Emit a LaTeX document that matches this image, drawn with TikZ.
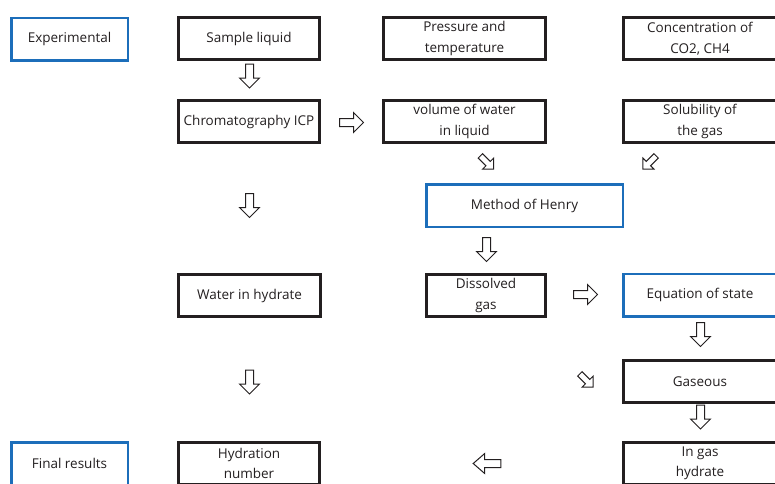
\documentclass[tikz,border=0pt]{standalone}
\usepackage{fontspec}
\setmainfont{Open Sans}
\definecolor{boxblue}{HTML}{1C6EBA}
\definecolor{ink}{HTML}{231F20}

\tikzset{
  openarrow/.pic={
    \draw[ink, line width=1pt, line join=miter]
      (-12,-4) -- (2,-4) -- (2,-10) -- (12,0) -- (2,10) -- (2,4) -- (-12,4) -- cycle;
  }
}

\begin{document}
\begin{tikzpicture}[x=1pt,y=-1pt,
  every node/.style={font=\fontsize{13.5}{20.5}\selectfont, text=ink, align=center},
  stage/.style={draw=ink, line width=3pt, minimum height=42pt, inner sep=0pt},
  phase/.style={draw=boxblue, line width=2.5pt, minimum height=42.5pt, inner sep=0pt}]
\useasboundingbox (0,0) rectangle (775,483);
\clip (0,0) rectangle (775,483);

% first row
\node[phase, minimum width=116.5pt] (exp) at (69.5,39) {Experimental};
\node[stage, minimum width=141pt] (sample) at (249,38.5) {Sample liquid};
\node[stage, minimum width=162pt] (press) at (464.5,38.5) {Pressure and\\temperature};
\node[stage, minimum width=153pt] (conc) at (700,38.5) {Concentration of\\CO2, CH4};

% second row
\node[stage, minimum width=141pt] (chrom) at (249,121.5) {Chromatography ICP};
\node[stage, minimum width=162pt] (vol) at (464.5,121.5) {volume of water\\in liquid};
\node[stage, minimum width=153pt] (solub) at (700,121.5) {Solubility of\\the gas};

\node[phase, minimum width=196.5pt] (henry) at (524.5,205.5) {Method of Henry};

% third row
\node[stage, minimum width=142pt] (water) at (249.5,295.5) {Water in hydrate};
\node[stage, minimum width=119pt] (diss) at (486,295.5) {Dissolved\\gas};
\node[phase, minimum width=153.5pt] (eos) at (700,295) {Equation of state};

\node[stage, minimum width=153pt] (gas) at (700,381.5) {Gaseous};

% last row
\node[phase, minimum width=116.5pt] (final) at (69.5,463.5) {Final results};
\node[stage, minimum width=141pt] (hydn) at (249,463.5) {Hydration\\number};
\node[stage, minimum width=153pt] (ingas) at (700,463.5) {In gas\\hydrate};

% arrows
\pic[rotate=-90] at (249.5,76) {openarrow};
\pic at (351.5,122.5) {openarrow};
\pic[rotate=-45, scale=0.78] at (487,162.5) {openarrow};
\pic[rotate=-135, scale=0.78] at (649.5,162.5) {openarrow};
\pic[rotate=-90] at (249.5,205.5) {openarrow};
\pic[rotate=-90] at (486.5,249.5) {openarrow};
\pic at (585.5,294.5) {openarrow};
\pic[rotate=-90] at (700.5,334.5) {openarrow};
\pic[rotate=-45, scale=0.78] at (586.5,380.5) {openarrow};
\pic[rotate=-90] at (249.5,382) {openarrow};
\pic[rotate=-90] at (700.5,417) {openarrow};
\pic[rotate=180, xscale=1.15] at (487,463.5) {openarrow};
\end{tikzpicture}
\end{document}
